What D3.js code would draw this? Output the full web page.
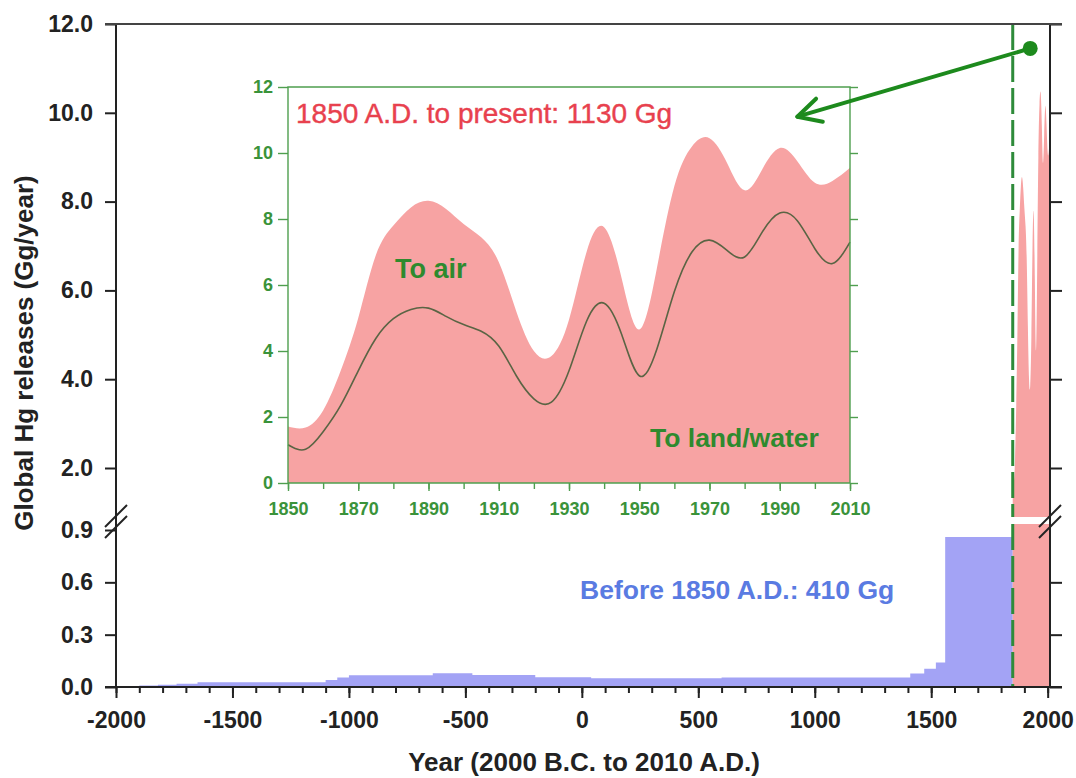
<!DOCTYPE html>
<html><head><meta charset="utf-8">
<script src="https://cdn.jsdelivr.net/npm/d3@7"></script>
<style>
body{margin:0;background:#fff}
svg{display:block}
text{font-family:Arial,"Liberation Sans",sans-serif}
</style>
</head><body>
<svg id="c" width="1076" height="778"></svg>
<script>
// ---------- DATA ----------
// Before 1850 A.D. (step series, Gg/year)
const preYears  = [-2000,-1900,-1820,-1740,-1650,-1100,-1050,-1000,-640,-470,-200,40,600,1410,1470,1520,1560,1850];
const preValues = [0.003,0.008,0.013,0.019,0.027,0.040,0.055,0.067,0.079,0.069,0.056,0.050,0.054,0.077,0.105,0.140,0.860,0.860];
// 1850 A.D. to present (Gg/year)
const modYears = [1850,1855,1860,1865,1870,1875,1880,1885,1890,1895,1900,1905,1910,1915,1920,1925,1930,1935,1940,1945,1950,1955,1960,1965,1970,1975,1980,1985,1990,1995,2000,2005,2010];
const modTotal = [1.71,1.68,2.2,3.4,5.0,6.9,7.8,8.35,8.55,8.3,7.85,7.45,6.7,5.2,4.0,3.85,4.95,7.0,7.75,6.2,4.65,6.5,9.0,10.2,10.45,9.7,8.87,9.5,10.15,9.75,9.1,9.15,9.55];
const modLandWater = [1.16,1.02,1.55,2.35,3.4,4.38,4.98,5.26,5.3,5.05,4.8,4.6,4.15,3.25,2.55,2.45,3.4,4.9,5.45,4.5,3.25,4.05,5.8,7.0,7.36,7.05,6.85,7.6,8.18,7.95,7.1,6.65,7.3];
// Tick labels
const mainXTicks = [-2000,-1500,-1000,-500,0,500,1000,1500,2000];
const mainYTicksUpper = [2,4,6,8,10,12];
const mainYTicksLower = [0,0.3,0.6,0.9];
const insetXTicks = [1850,1870,1890,1910,1930,1950,1970,1990,2010];
const insetYTicks = [0,2,4,6,8,10,12];
// Texts
const labelModern = "1850 A.D. to present: 1130 Gg";
const labelPre = "Before 1850 A.D.: 410 Gg";
const labelAir = "To air";
const labelLand = "To land/water";
const xTitle = "Year (2000 B.C. to 2010 A.D.)";
const yTitle = "Global Hg releases (Gg/year)";

// ---------- LAYOUT ----------
const svg = d3.select('#c');
const L = 116, R = 1050, T = 24, B = 687;
const breakTop = 517, breakBot = 524;
const RED = '#f7a3a3', BLUE = '#a3a3f5', GREEN = '#2e8a2e', AX = '#222';
const CURVE = d3.curveNatural;

const x = d3.scaleLinear().domain([-2000, 2010]).range([L, R]);
const yUp = d3.scaleLinear().domain([2, 12]).range([468, T]);
const yLo = d3.scaleLinear().domain([0, 0.9]).range([B, 530]);

const pre = preYears.map((yr, i) => ({yr, v: preValues[i]}));
const mod = modYears.map((yr, i) => ({yr, t: modTotal[i], lw: modLandWater[i]}));

// blue area (before 1850)
svg.append('path').datum(pre)
  .attr('d', d3.area().x(d => x(d.yr)).y0(yLo(0)).y1(d => yLo(d.v)).curve(d3.curveStepAfter))
  .attr('fill', BLUE);

// red area lower segment (clamped at break)
svg.append('path').datum(mod)
  .attr('d', d3.area().x(d => x(d.yr)).y0(yLo(0)).y1(d => Math.max(yLo(d.t), breakBot)).curve(d3.curveMonotoneX))
  .attr('fill', RED);
// red area upper segment
svg.append('path').datum(mod)
  .attr('d', d3.area().x(d => x(d.yr)).y0(breakTop).y1(d => Math.min(yUp(d.t), breakTop)).curve(CURVE))
  .attr('fill', RED);

// dashed 1850 line
[[T, breakTop], [breakBot, B]].forEach(([a, b]) => {
  svg.append('line').attr('x1', x(1850)).attr('x2', x(1850)).attr('y1', a).attr('y2', b)
    .attr('stroke', '#2e8b3a').attr('stroke-width', 3).attr('stroke-dasharray', '26,6');
});

// ---------- MAIN AXES ----------
function styleAxis(g, size, weight, color) {
  g.select('.domain').remove();
  g.selectAll('.tick line').attr('stroke', color).attr('stroke-width', 2);
  g.selectAll('.tick text').attr('font-size', size).attr('font-weight', weight).attr('fill', color)
    .style('font-family', 'Arial, "Liberation Sans", sans-serif');
}
const fmt1 = d3.format('.1f');
svg.append('g').attr('transform', `translate(${L},0)`)
  .call(d3.axisLeft(yUp).tickValues(mainYTicksUpper).tickFormat(fmt1).tickSize(11).tickPadding(12))
  .call(g => styleAxis(g, 23, 'bold', AX));
svg.append('g').attr('transform', `translate(${L},0)`)
  .call(d3.axisLeft(yLo).tickValues(mainYTicksLower).tickFormat(fmt1).tickSize(11).tickPadding(12))
  .call(g => styleAxis(g, 23, 'bold', AX));
svg.append('g').attr('transform', `translate(${R},0)`)
  .call(d3.axisRight(yUp).tickValues(mainYTicksUpper).tickFormat('').tickSize(12))
  .call(g => styleAxis(g, 23, 'bold', AX));
svg.append('g').attr('transform', `translate(${R},0)`)
  .call(d3.axisRight(yLo).tickValues([0, 0.3, 0.6]).tickFormat('').tickSize(12))
  .call(g => styleAxis(g, 23, 'bold', AX));
svg.append('g').attr('transform', `translate(0,${B})`)
  .call(d3.axisBottom(x).tickValues(d3.range(-2000, 2001, 100)).tickFormat('').tickSize(6))
  .call(g => styleAxis(g, 23, 'bold', AX));
svg.append('g').attr('transform', `translate(0,${B})`)
  .call(d3.axisBottom(x).tickValues(mainXTicks).tickFormat(d => String(d)).tickSize(11).tickPadding(14))
  .call(g => styleAxis(g, 23, 'bold', AX));

// frame lines
svg.append('line').attr('x1', L).attr('x2', L).attr('y1', T).attr('y2', B).attr('stroke', AX).attr('stroke-width', 2);
svg.append('line').attr('x1', R).attr('x2', R).attr('y1', T).attr('y2', B).attr('stroke', AX).attr('stroke-width', 2);
svg.append('line').attr('x1', L - 11).attr('x2', R + 12).attr('y1', T).attr('y2', T).attr('stroke', '#444').attr('stroke-width', 2);
svg.append('line').attr('x1', L - 11).attr('x2', R + 12).attr('y1', B).attr('y2', B).attr('stroke', AX).attr('stroke-width', 2);

// break marks
[L, R].forEach(cx => {
  [516, 527].forEach(cy => {
    svg.append('line').attr('x1', cx - 11).attr('y1', cy + 11).attr('x2', cx + 11).attr('y2', cy - 11)
      .attr('stroke', AX).attr('stroke-width', 2);
  });
});

// titles
svg.append('text').attr('x', 584).attr('y', 771).attr('text-anchor', 'middle')
  .attr('font-size', 26).attr('font-weight', 'bold').attr('fill', AX).text(xTitle);
svg.append('text').attr('transform', 'translate(33,353) rotate(-90)').attr('text-anchor', 'middle')
  .attr('font-size', 26).attr('font-weight', 'bold').attr('fill', AX).text(yTitle);

// pre-1850 label
svg.append('text').attr('x', 580).attr('y', 599).attr('font-size', 26.5).attr('font-weight', 'bold')
  .attr('fill', '#5a7be2').text(labelPre);

// ---------- INSET ----------
const xi = d3.scaleLinear().domain([1850, 2010]).range([288, 850]);
const yi = d3.scaleLinear().domain([0, 12]).range([483, 87]);
const IG = '#4f9f4f', IT = '#3a933a';

svg.append('path').datum(mod)
  .attr('d', d3.area().x(d => xi(d.yr)).y0(yi(0)).y1(d => yi(d.t)).curve(CURVE))
  .attr('fill', RED);
svg.append('path').datum(mod)
  .attr('d', d3.line().x(d => xi(d.yr)).y(d => yi(d.lw)).curve(CURVE))
  .attr('fill', 'none').attr('stroke', '#5a6444').attr('stroke-width', 1.6);

function styleInset(g) {
  g.select('.domain').remove();
  g.selectAll('.tick line').attr('stroke', IG).attr('stroke-width', 1.4);
  g.selectAll('.tick text').attr('font-size', 18).attr('font-weight', 'bold').attr('fill', IT)
    .style('font-family', 'Arial, "Liberation Sans", sans-serif');
}
svg.append('g').attr('transform', `translate(${xi(1850)},0)`)
  .call(d3.axisLeft(yi).tickValues(insetYTicks).tickSize(10).tickPadding(5))
  .call(styleInset);
svg.append('g').attr('transform', `translate(${xi(2010)},0)`)
  .call(d3.axisRight(yi).tickValues(insetYTicks).tickFormat('').tickSize(8))
  .call(styleInset);
svg.append('g').attr('transform', `translate(0,${yi(0)})`)
  .call(d3.axisBottom(xi).tickValues(d3.range(1850, 2011, 10)).tickFormat('').tickSize(6))
  .call(styleInset);
svg.append('g').attr('transform', `translate(0,${yi(0)})`)
  .call(d3.axisBottom(xi).tickValues(insetXTicks).tickFormat(d => String(d)).tickSize(8).tickPadding(11))
  .call(styleInset);
// inset frame
svg.append('path')
  .attr('d', `M${xi(1850)},${yi(0)}V${yi(12)}H${xi(2010)}V${yi(0)}`)
  .attr('fill', 'none').attr('stroke', IG).attr('stroke-width', 1.4);
svg.append('line').attr('x1', xi(1850)).attr('x2', xi(2010)).attr('y1', yi(0)).attr('y2', yi(0))
  .attr('stroke', IG).attr('stroke-width', 1.6);

// inset labels
svg.append('text').attr('x', 296).attr('y', 123).attr('font-size', 28).attr('fill', '#e8414e')
  .attr('stroke', '#e8414e').attr('stroke-width', 0.4).text(labelModern);
svg.append('text').attr('x', 395).attr('y', 278).attr('font-size', 27).attr('font-weight', 'bold').attr('fill', GREEN).text(labelAir);
svg.append('text').attr('x', 650).attr('y', 447).attr('font-size', 26.5).attr('font-weight', 'bold').attr('fill', GREEN).text(labelLand);

// ---------- ARROW ----------
const AG = '#1d8a1d';
const p0 = [x(1925), yUp(11.45)];
const p1 = [xi(1995), yi(11.1)];
svg.append('line').attr('x1', p0[0]).attr('y1', p0[1]).attr('x2', p1[0]).attr('y2', p1[1])
  .attr('stroke', AG).attr('stroke-width', 4);
const ang = Math.atan2(p0[1] - p1[1], p0[0] - p1[0]);
[0.48, -0.48].forEach(da => {
  svg.append('line').attr('x1', p1[0]).attr('y1', p1[1])
    .attr('x2', p1[0] + 26 * Math.cos(ang + da)).attr('y2', p1[1] + 26 * Math.sin(ang + da))
    .attr('stroke', AG).attr('stroke-width', 4).attr('stroke-linecap', 'round');
});
svg.append('circle').attr('cx', p0[0]).attr('cy', p0[1]).attr('r', 7.5).attr('fill', AG);
</script>
</body></html>
